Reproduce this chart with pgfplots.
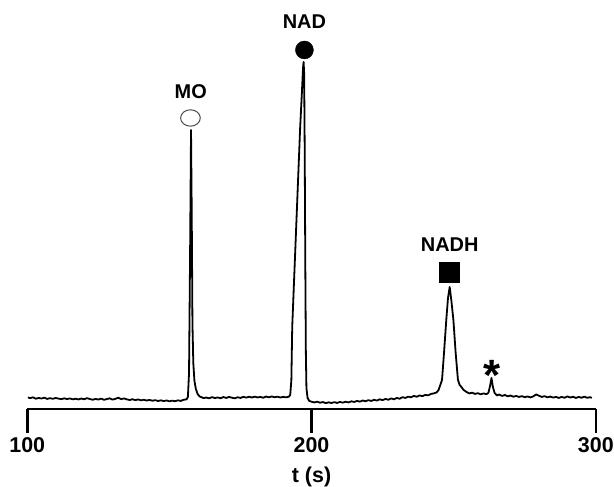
\documentclass[border=0pt]{standalone}
\usepackage{fontspec}
\setmainfont{Liberation Sans}
\usepackage{pgfplots}
\pgfplotsset{compat=1.18}
\begin{document}
\begin{tikzpicture}
\begin{axis}[
  x=2.843bp, y=1bp,
  xmin=100, xmax=300, ymin=4, ymax=413,
  axis x line*=bottom, axis y line=none,
  axis line style={line width=2.6bp, black},
  xtick={100,200,300}, minor xtick={},
  tick align=outside, major tick length=24bp,
  xtick style={line width=2.6bp, black},
  ticklabel style={font=\fontsize{21.5}{21.5}\selectfont\bfseries, inner sep=0pt, yshift=-4bp},
  /pgf/number format/assume math mode=true,
  xlabel={t (s)},
  xlabel style={font=\fontsize{21.5}{21.5}\selectfont\bfseries, inner sep=0pt, yshift=-14bp},
  clip=false,
]
\path (axis cs:90.4,-74) rectangle (axis cs:306.4,413);
\addplot[line width=1.8bp, black, line join=round] coordinates {
(100.2,15.5) (101,14.8) (102,15.6) (103,14.2) (104,15.0) (105,14.4) (106,15.3) (107,14.0) (108,14.8) (109,14.1)
(110,15.0) (111,14.3) (112,13.8) (113,14.6) (114,13.9) (115,14.5) (116,13.6) (117,14.2) (118,13.5) (119,14.4)
(120,13.7) (121,14.8) (122,13.9) (123,13.2) (124,14.0) (125,13.4) (126,14.3) (127,13.1) (128,13.9) (129,14.6)
(130,13.3) (131,14.1) (132,15.2) (133,13.8) (134,14.5) (135,13.6) (136,12.9) (137,13.7) (138,12.8) (139,13.5)
(140,12.6) (141,13.2) (142,12.4) (143,13.0) (144,12.2) (145,12.8) (146,11.9) (147,12.6) (148,11.8) (149,12.5)
(150,11.6) (151,12.3) (152,11.7) (153,12.6) (154,12.0) (155,13.2) (156,13.5)
(156.5,16) (156.9,40) (157.3,170) (157.6,283) (157.85,200) (158.1,90) (158.4,50) (158.8,32) (159.3,24) (159.9,19)
(160.6,16.5) (161.5,15.5) (162,14.8) (163,15.4) (164,14.6) (165,15.8) (166,14.9) (167,15.5) (168,14.7) (169,15.9)
(170,15.0) (171,16.0) (172,15.2) (173,14.6) (174,15.7) (175,15.0) (176,16.1) (177,15.3) (178,16.2) (179,15.4)
(180,16.3) (181,15.5) (182,16.0) (183,15.2) (184,16.4) (185,15.6) (186,16.5) (187,15.7) (188,16.3) (189,15.4)
(190,16.1) (191,15.6) (192,16.2)
(192.5,18) (192.9,33) (193.2,86) (193.9,136) (194.6,186) (195.3,236) (196.0,286) (196.6,320) (197.0,345) (197.2,351)
(197.4,340) (197.6,260) (197.8,150) (198.0,60) (198.2,25) (198.6,15) (199.2,12)
(200,11.2) (201,10.5) (202,11.3) (203,10.2) (204,10.9) (205,9.8) (206,10.6) (207,9.9) (208,10.8) (209,10.0)
(210,11.0) (211,10.3) (212,11.2) (213,10.5) (214,11.6) (215,11.0) (216,12.0) (217,11.3) (218,12.4) (219,11.7)
(220,12.8) (221,12.0) (222,13.1) (223,12.4) (224,13.6) (225,12.8) (226,14.0) (227,13.2) (228,14.5) (229,13.6)
(230,15.0) (231,14.2) (232,15.8) (233,15.0) (234,16.3) (235,15.6) (236,17.0) (237,16.2) (238,17.5) (239,16.8)
(240,18.0) (241,17.6) (242,19.0) (243,19.5) (244,20.5)
(244.7,23) (245.3,28) (245.9,33) (246.6,60) (247.4,93) (248.0,115) (248.6,126) (249.2,112) (249.9,93) (250.7,60)
(251.5,33) (252.1,28) (252.7,26) (253.5,23) (254.5,21) (255.5,19.5) (256.5,20.3) (257.5,19.0) (258.5,19.8) (259.5,18.6)
(260.5,19.5) (261.5,18.8) (262.2,20) (262.8,27) (263.3,35) (263.8,26) (264.4,20) (265.2,17.5) (266,18.4) (267,17.0)
(268,18.0) (269,16.6) (270,17.4) (271,16.2) (272,17.0) (273,16.0) (274,16.8) (275,15.7) (276,16.5) (277,15.5)
(278,16.6) (279,18.5) (280,17.2) (281,16.0) (282,16.8) (283,15.6) (284,16.4) (285,15.3) (286,16.1) (287,15.0)
(288,16.0) (289,15.2) (290,16.5) (291,15.4) (292,16.2) (293,15.0) (294,16.0) (295,15.2) (296,16.3) (297,15.1)
(298,15.8) (298.6,15.0)
};
% peak markers
\addplot[only marks, mark=o, mark size=8.2bp, mark options={xscale=1.2, line width=1bp, draw=black!70}] coordinates {(157.4,295)};
\addplot[only marks, mark=*, mark size=9bp, mark options={fill=black, draw=black}] coordinates {(197.5,363)};
\addplot[only marks, mark=square*, mark size=10bp, mark options={fill=black, draw=black}] coordinates {(248.4,141)};
\node[font=\fontsize{20}{20}\selectfont\bfseries] at (axis cs:157.5,321) {MO};
\node[font=\fontsize{20}{20}\selectfont\bfseries] at (axis cs:197.5,391) {NAD};
\node[font=\fontsize{20}{20}\selectfont\bfseries] at (axis cs:248.6,168) {NADH};
\node[font=\fontsize{44}{44}\selectfont\bfseries, inner sep=0pt, anchor=center] at (axis cs:263.4,38) {*};
\end{axis}
\end{tikzpicture}
\end{document}
